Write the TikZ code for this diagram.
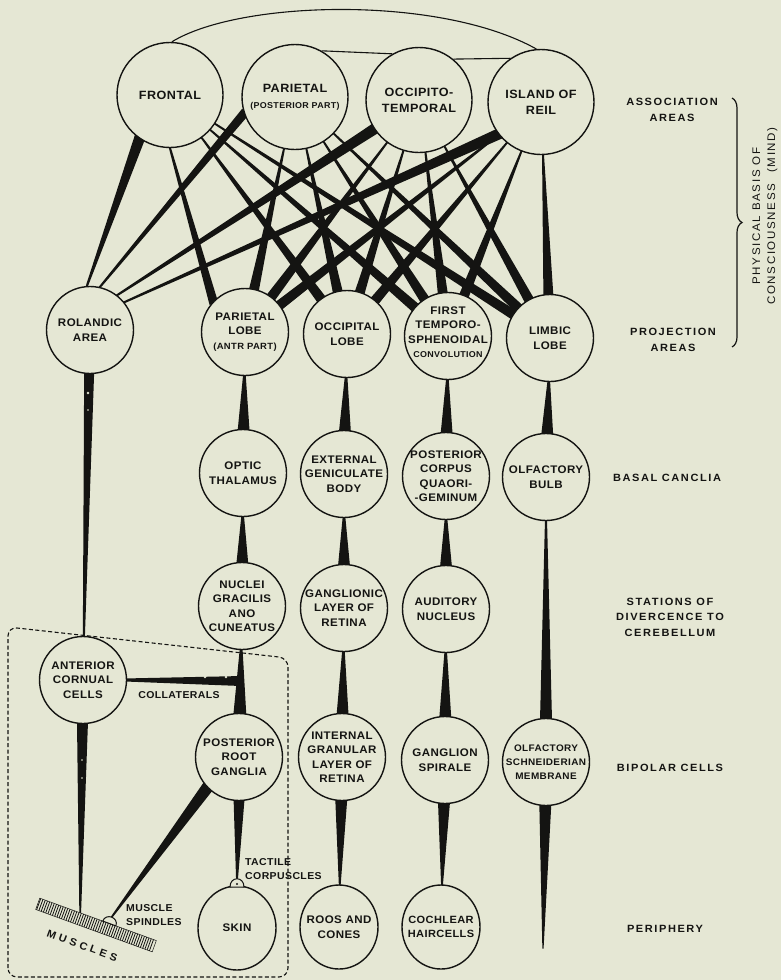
\documentclass[tikz,border=0pt]{standalone}
\usepackage{fontspec}
\newfontfamily\nf{Liberation Sans}[FakeStretch=1.05,LetterSpace=4]
\newfontfamily\lf{Liberation Sans}[FakeStretch=1.05,LetterSpace=15]
\newfontfamily\mf{Liberation Sans}[FakeStretch=1.05,LetterSpace=32]
\usetikzlibrary{shapes.geometric,calc,decorations.pathreplacing}
\definecolor{paper}{RGB}{229,231,212}
\definecolor{ink}{RGB}{20,20,18}
\pgfdeclarelayer{paperlayer}
\pgfdeclarelayer{wires}
\pgfsetlayers{paperlayer,wires,main}
% tapered fibre: #1 thin end, #2 wide end, #3 thin half width, #4 wide half width
\newcommand{\wdg}[4]{%
  \path #1 -- #2 coordinate[pos=0] (wA) coordinate[pos=1] (wB);
  \coordinate (wC) at ($(wA)!-2.5pt!(wB)$);
  \coordinate (wD) at ($(wB)!-2.5pt!(wA)$);
  \fill[ink] ($(wC)!#3!90:(wD)$) -- ($(wD)!#4!-90:(wC)$) -- ($(wD)!#4!90:(wC)$) -- ($(wC)!#3!-90:(wD)$) -- cycle;}
\tikzset{
  cellbase/.style={ellipse, draw=ink, line width=1.4pt, fill=paper, inner sep=0pt},
  big/.style={cellbase, minimum width=106pt, minimum height=105pt},
  mid/.style={cellbase, minimum width=87pt, minimum height=87pt},
  sml/.style={cellbase, minimum width=78pt, minimum height=84pt},
  tx/.style={align=center, text=ink, inner sep=0pt, font=\nf\bfseries\fontsize{11}{14.5}\selectfont},
  txbig/.style={align=center, text=ink, inner sep=0pt, font=\nf\bfseries\fontsize{12}{16}\selectfont},
  rlab/.style={align=center, text=ink, inner sep=0pt, font=\lf\bfseries\fontsize{10.5}{15.5}\selectfont},
  note/.style={align=left, text=ink, inner sep=0pt, font=\nf\bfseries\fontsize{10}{14.5}\selectfont},
  thin/.style={draw=ink, line width=1.1pt},
  speck/.style={fill=paper},
  boxline/.style={draw=ink, line width=1.1pt, dash pattern=on 4pt off 2.5pt, rounded corners=9pt}
}
\begin{document}
\begin{tikzpicture}[x=1pt,y=-1pt]
\useasboundingbox (0,0) rectangle (781,980);
\begin{pgfonlayer}{paperlayer}
  \fill[paper] (0,0) rectangle (781,980);
\end{pgfonlayer}

% association areas
\node[big, label={[txbig]center:FRONTAL}] (fr) at (170,95) {};
\node[big, label={[txbig]center:PARIETAL\\{\fontsize{8.5}{12}\selectfont(POSTERIOR PART)}}] (pa) at (295,97) {};
\node[big, label={[txbig]center:OCCIPITO-\\TEMPORAL}] (oc) at (419,100) {};
\node[big, label={[txbig]center:ISLAND OF\\REIL}] (is) at (541,102) {};

% projection areas
\node[mid, label={[tx]center:ROLANDIC\\AREA}] (ro) at (90,330) {};
\node[mid, label={[tx]center:PARIETAL\\LOBE\\{\fontsize{9}{14}\selectfont(ANTR PART)}}] (pl) at (245,332) {};
\node[mid, label={[tx]center:OCCIPITAL\\LOBE}] (ol) at (347,334) {};
\node[mid, label={[tx,yshift=4pt]center:FIRST\\TEMPORO-\\SPHENOIDAL\\{\fontsize{8.5}{14}\selectfont CONVOLUTION}}] (te) at (448,336) {};
\node[mid, label={[tx]center:LIMBIC\\LOBE}] (li) at (550,338) {};

% basal ganglia
\node[mid, label={[tx]center:OPTIC\\THALAMUS}] (ot) at (243,473) {};
\node[mid, label={[tx]center:EXTERNAL\\GENICULATE\\BODY}] (eg) at (344,474) {};
\node[mid, label={[tx]center:POSTERIOR\\CORPUS\\QUAORI-\\-GEMINUM}] (pc) at (446,476) {};
\node[mid, label={[tx]center:OLFACTORY\\BULB}] (ob) at (546,477) {};

% stations of divergence
\node[mid, label={[tx]center:NUCLEI\\GRACILIS\\ANO\\CUNEATUS}] (ng) at (242,606) {};
\node[mid, label={[tx]center:GANGLIONIC\\LAYER OF\\RETINA}] (gl) at (344,608) {};
\node[mid, label={[tx]center:AUDITORY\\NUCLEUS}] (an) at (446,609) {};

% bipolar cells
\node[mid, label={[tx]center:ANTERIOR\\CORNUAL\\CELLS}] (ac) at (83,680) {};
\node[mid, label={[tx]center:POSTERIOR\\ROOT\\GANGLIA}] (pr) at (239,757) {};
\node[mid, label={[tx]center:INTERNAL\\GRANULAR\\LAYER OF\\RETINA}] (ig) at (342,757) {};
\node[mid, label={[tx]center:GANGLION\\SPIRALE}] (gs) at (445,760) {};
\node[mid, label={[tx,font=\nf\bfseries\fontsize{9.5}{14}\selectfont]center:OLFACTORY\\SCHNEIDERIAN\\MEMBRANE}] (os) at (546,762) {};

% periphery
\node[sml, label={[tx]center:SKIN}] (sk) at (237,928) {};
\node[sml, label={[tx]center:ROOS AND\\CONES}] (rc) at (339,927) {};
\node[sml, label={[tx,font=\nf\bfseries\fontsize{10.5}{14.5}\selectfont]center:COCHLEAR\\HAIRCELLS}] (ch) at (441,927) {};

% muscles
\begin{scope}[shift={(96,925)}, rotate=-20]
  \fill[paper] (-62,-6) rectangle (62,6);
  \foreach \u in {-61,-58.6,...,61} \draw[ink, line width=0.8pt] (\u,-6) -- (\u,6);
  \draw[ink, line width=0.5pt] (-62,-6) rectangle (62,6);
  \filldraw[fill=paper, draw=ink, line width=1pt] (5,-6) .. controls (5,-15) and (19,-15) .. (19,-6) -- cycle;
  \coordinate (spin) at (12,-12.8);
  \coordinate (mus) at (-19,-6);
  \node[rotate=-20, text=ink, font=\mf\bfseries\fontsize{10.5}{12}\selectfont] (mtext) at (-6,24) {MUSCLES};
\end{scope}

% tactile corpuscle
\filldraw[fill=paper, draw=ink, line width=1pt] (230,887) .. controls (230,876) and (244,876) .. (244,887) -- cycle;
\fill[ink] (237,884) circle[radius=1.1];
\coordinate (tac) at (237,879);
\coordinate (colj) at (239,681);
\coordinate (osend) at (543,946);

% labels
\node[rlab] (la) at (672,110) {ASSOCIATION\\AREAS};
\node[rlab] (lp) at (673,340) {PROJECTION\\AREAS};
\node[rlab] (lb) at (667,478) {BASAL CANCLIA};
\node[rlab] (ls) at (670,617) {STATIONS OF\\DIVERCENCE TO\\CEREBELLUM};
\node[rlab] (lbc) at (670,768) {BIPOLAR CELLS};
\node[rlab] (lper) at (665,929) {PERIPHERY};
\node[rotate=90, align=center, text=ink, inner sep=0pt, font=\lf\fontsize{11}{15}\selectfont] (phys) at (765,216) {PHYSICAL BASIS OF\\CONSCIOUSNESS\quad(MIND)};
\draw[ink, line width=1.2pt, decorate, decoration={brace, amplitude=10pt}] (732,98) -- (732,347);

\node[note, anchor=center] (coll) at (179,695) {COLLATERALS};
\node[note, anchor=west] (tactxt) at (245,869) {TACTILE\\CORPUSCLES};
\node[note, anchor=west] (spintxt) at (126,915) {MUSCLE\\SPINDLES};

\begin{pgfonlayer}{wires}
  % links among association areas
  \draw[thin] (fr.88) .. controls (240,0) and (440,-5) .. (is.95);
  \draw[thin] (pa.60) -- (oc.120);
  \draw[thin] (oc.50) -- (is.125);
  % association -> Rolandic (wide at association end)
  \wdg{(ro.94)}{(fr.235)}{1pt}{5.5pt}
  \wdg{(ro.77)}{(pa.198)}{1pt}{4.5pt}
  \wdg{(ro.52)}{(oc.213)}{1pt}{5.5pt}
  \wdg{(ro.39)}{(is.217)}{1pt}{5.5pt}
  % projection -> association (wide at projection end)
  \wdg{(fr.270)}{(pl.136)}{1pt}{4.5pt}
  \foreach \a/\p in {fr/ol,fr/te,fr/li,pa/pl,pa/ol,pa/te,pa/li,oc/pl,oc/ol,oc/te,oc/li,is/pl,is/ol,is/te,is/li}
    {\wdg{(\a)}{(\p)}{0.9pt}{5pt}}
  % ascending paths
  \wdg{(pl)}{(ot)}{1.2pt}{6pt}
  \wdg{(ol)}{(eg)}{1.2pt}{6pt}
  \wdg{(te)}{(pc)}{1.2pt}{6pt}
  \wdg{(li)}{(ob)}{1.2pt}{6pt}
  \wdg{(ot)}{(ng)}{1.2pt}{6pt}
  \wdg{(eg)}{(gl)}{1.2pt}{6pt}
  \wdg{(pc)}{(an)}{1.2pt}{6pt}
  \wdg{(ob)}{(os)}{1pt}{6pt}
  \wdg{(ng)}{(pr)}{1.3pt}{6.5pt}
  \wdg{(gl)}{(ig)}{1.2pt}{6pt}
  \wdg{(an)}{(gs)}{1.2pt}{6pt}
  \wdg{(ac.east)}{(colj)}{1.5pt}{5pt}
  % receptors
  \wdg{(rc)}{(ig)}{0.8pt}{6pt}
  \wdg{(ch)}{(gs)}{0.8pt}{6pt}
  \wdg{(osend)}{(os)}{0.6pt}{6pt}
  \wdg{(tac)}{(pr.south)}{0.8pt}{5.5pt}
  \wdg{(spin)}{(pr.224)}{0.8pt}{6pt}
  % motor path
  \wdg{(ac)}{(ro)}{1pt}{5pt}
  \wdg{(mus)}{(ac)}{0.8pt}{5.5pt}
  % small light specks on some fibres
  \fill[speck] (88,393) circle[radius=1.3] (88,410) circle[radius=0.9]
               (205,677) circle[radius=1.3] (226,677) circle[radius=1.3]
               (82,760) circle[radius=0.9] (82,778) circle[radius=0.9];
  % spinal cord outline
  \draw[boxline] (8,977) -- (8,627) -- (288,658) -- (288,977) -- cycle;
\end{pgfonlayer}
\end{tikzpicture}
\end{document}
